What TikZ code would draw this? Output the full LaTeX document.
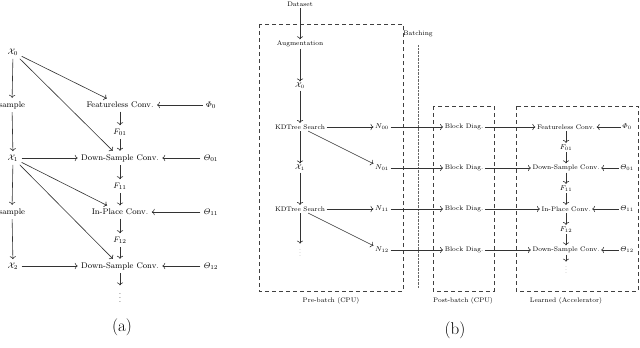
\documentclass[tikz,border=0pt]{standalone}
\usepackage{amsmath,amssymb}
\usepackage{tikz}
\usetikzlibrary{arrows.meta,positioning}

\begin{document}
\begin{tikzpicture}[x=1pt,y=-1pt,>=To,
    atext/.style={font=\fontsize{8.2}{10}\selectfont},
    btext/.style={font=\fontsize{6.6}{8}\selectfont,inner sep=1.5pt},
    dotsnode/.style={inner sep=0pt},
    flow/.style={->,semithick,black!80},
    batchbox/.style={semithick,dash pattern=on 4pt off 3pt,black!75}]
  \useasboundingbox (0,0) rectangle (640,348);

  % (a): single-graph view
  \begin{scope}[every node/.style={atext}]
    \node (ax0) at (13,52) {$\mathcal{X}_0$};
    \node (asa) at (12,105) {sample};
    \node (ax1) at (13,158) {$\mathcal{X}_1$};
    \node (asb) at (12,212) {sample};
    \node (ax2) at (13,266) {$\mathcal{X}_2$};
    \node (afc) at (120,105) {Featureless Conv.};
    \node (af01) at (120,132) {$F_{01}$};
    \node (ads0) at (120,158) {Down-Sample Conv.};
    \node (af11) at (120,186) {$F_{11}$};
    \node (aip) at (120,212) {In-Place Conv.};
    \node (af12) at (120,240) {$F_{12}$};
    \node (ads1) at (120,266) {Down-Sample Conv.};
    \node[dotsnode] (adots) at (120,295) {$\vdots$};
    \node (aphi) at (211,105) {$\varPhi_0$};
    \node (ath01) at (211,158) {$\varTheta_{01}$};
    \node (ath11) at (211,212) {$\varTheta_{11}$};
    \node (ath12) at (211,266) {$\varTheta_{12}$};
  \end{scope}
  \draw[flow] (ax0) -- (asa);
  \draw[flow] (asa) -- (ax1);
  \draw[flow] (ax1) -- (asb);
  \draw[flow] (asb) -- (ax2);
  \draw[flow] (ax0) -- (afc);
  \draw[flow] (ax0) -- (ads0);
  \draw[flow] (ax1) -- (ads0);
  \draw[flow] (ax1) -- (aip);
  \draw[flow] (ax1) -- (ads1);
  \draw[flow] (ax2) -- (ads1);
  \draw[flow] (afc) -- (af01);
  \draw[flow] (af01) -- (ads0);
  \draw[flow] (ads0) -- (af11);
  \draw[flow] (af11) -- (aip);
  \draw[flow] (aip) -- (af12);
  \draw[flow] (af12) -- (ads1);
  \draw[flow,shorten >=2pt] (ads1) -- (adots);
  \draw[flow] (aphi) -- (afc);
  \draw[flow] (ath01) -- (ads0);
  \draw[flow] (ath11) -- (aip);
  \draw[flow] (ath12) -- (ads1);
  \node[font=\fontsize{17}{20}\selectfont] (alab) at (122,327) {(a)};

  % (b): batched pipeline
  \draw[batchbox] (259,24) rectangle (403,291);
  \draw[batchbox] (433,106) rectangle (494,291);
  \draw[batchbox] (516,106) rectangle (638,291);
  \draw[black!60,densely dotted] (418,45) -- (418,288);
  \begin{scope}[every node/.style={btext}]
    \node (bpre) at (331,301) {Pre-batch (CPU)};
    \node (bbat) at (418,34) {Batching};
    \node (bpost) at (463,301) {Post-batch (CPU)};
    \node (blrn) at (566,301) {Learned (Accelerator)};
    \node (bdata) at (300,4) {Dataset};
    \node (baug) at (300,44) {Augmentation};
    \node (bx0) at (300,86) {$\mathcal{X}_0$};
    \node (bkd0) at (300,127) {KDTree Search};
    \node (bx1) at (300,168) {$\mathcal{X}_1$};
    \node (bkd1) at (300,209) {KDTree Search};
    \node[dotsnode] (bdots) at (300,251) {\scalebox{0.7}{$\vdots$}};
    \node (bn00) at (382,127) {$N_{00}$};
    \node (bn01) at (382,168) {$N_{01}$};
    \node (bn11) at (382,209) {$N_{11}$};
    \node (bn12) at (382,250) {$N_{12}$};
    \node (bbd0) at (464,127) {Block Diag.};
    \node (bbd1) at (464,168) {Block Diag.};
    \node (bbd2) at (464,209) {Block Diag.};
    \node (bbd3) at (464,250) {Block Diag.};
    \node (bfc) at (566,127) {Featureless Conv.};
    \node (bf01) at (566,147.5) {$F_{01}$};
    \node (bds0) at (566,168) {Down-Sample Conv.};
    \node (bf11) at (566,188.5) {$F_{11}$};
    \node (bip) at (566,209) {In-Place Conv.};
    \node (bf12) at (566,229.5) {$F_{12}$};
    \node (bds1) at (566,250) {Down-Sample Conv.};
    \node[dotsnode] (bdots2) at (566,268) {\scalebox{0.7}{$\vdots$}};
    \node (bphi) at (627,127) {$\varPhi_0$};
    \node (bth01) at (627,168) {$\varTheta_{01}$};
    \node (bth11) at (627,209) {$\varTheta_{11}$};
    \node (bth12) at (627,250) {$\varTheta_{12}$};
  \end{scope}
  \draw[flow] (bdata) -- (baug);
  \draw[flow] (baug) -- (bx0);
  \draw[flow] (bx0) -- (bkd0);
  \draw[flow] (bkd0) -- (bx1);
  \draw[flow] (bx1) -- (bkd1);
  \draw[flow,shorten >=2pt] (bkd1) -- (bdots);
  \draw[flow] (bkd0) -- (bn00);
  \draw[flow] (bkd0) -- (bn01);
  \draw[flow] (bkd1) -- (bn11);
  \draw[flow] (bkd1) -- (bn12);
  \foreach \n/\b in {bn00/bbd0,bn01/bbd1,bn11/bbd2,bn12/bbd3}
    \draw[flow] (\n) -- (\b);
  \foreach \b/\c in {bbd0/bfc,bbd1/bds0,bbd2/bip,bbd3/bds1}
    \draw[flow] (\b) -- (\c);
  \draw[flow] (bfc) -- (bf01);
  \draw[flow] (bf01) -- (bds0);
  \draw[flow] (bds0) -- (bf11);
  \draw[flow] (bf11) -- (bip);
  \draw[flow] (bip) -- (bf12);
  \draw[flow] (bf12) -- (bds1);
  \draw[flow,shorten >=1pt] (bds1) -- (bdots2);
  \draw[flow] (bphi) -- (bfc);
  \draw[flow] (bth01) -- (bds0);
  \draw[flow] (bth11) -- (bip);
  \draw[flow] (bth12) -- (bds1);
  \node[font=\fontsize{17}{20}\selectfont] (blab) at (455,330) {(b)};
\end{tikzpicture}
\end{document}
